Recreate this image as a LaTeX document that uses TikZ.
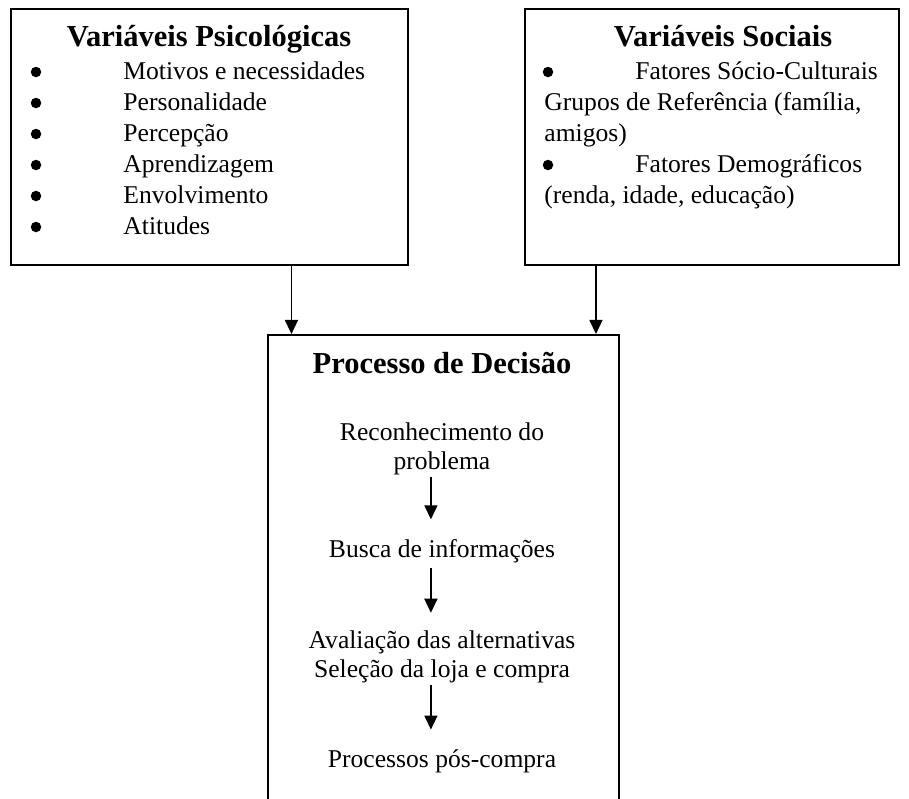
\documentclass[tikz,border=0pt]{standalone}
\usepackage{fontspec}
\setmainfont{Liberation Serif}
\usetikzlibrary{arrows.meta}

\newcommand{\px}{0.46875pt}

\begin{document}
\begin{tikzpicture}[x=\px, y=-\px,
  caixa/.style={draw, line width=0.9pt, anchor=north west, inner sep=0pt},
  titulo/.style={font=\fontsize{14.3}{17}\selectfont\bfseries, anchor=base, inner sep=0pt},
  texto/.style={font=\fontsize{12}{14.5}\selectfont, inner sep=0pt},
  marca/.style={circle, fill, inner sep=0pt, minimum size=10.5*\px},
  seta/.style={-{Triangle[length=6.6pt,width=6.1pt]}, line width=0.8pt}]

  \useasboundingbox (0,0) rectangle (909,798);
  \clip (0,0) rectangle (909,798);

  % Caixas
  \node[caixa, minimum width=397*\px, minimum height=256*\px] (psico) at (10,8) {};
  \node[caixa, minimum width=374*\px, minimum height=256*\px] (social) at (524,8) {};
  \node[caixa, minimum width=351*\px, minimum height=520*\px] (decisao) at (267,334) {};

  % Titulos
  \node[titulo] (tpsico) at (209,46) {Variáveis Psicológicas};
  \node[titulo] (tsocial) at (723,46) {Variáveis Sociais};
  \node[titulo] (tdecisao) at (442,373) {Processo de Decisão};

  % Variaveis psicologicas
  \foreach \txt [count=\i] in {Motivos e necessidades, Personalidade, Percepção,
      Aprendizagem, Envolvimento, Atitudes} {
    \node[marca] (b\i) at (36,41+31*\i) {};
    \node[texto, anchor=base west] (p\i) at (123,48+31*\i) {\txt};
  }

  % Variaveis sociais
  \node[marca] (sb1) at (548,72) {};
  \node[texto, anchor=base west] (s1) at (635,79) {Fatores Sócio-Culturais};
  \node[texto, anchor=base west] (s2) at (544,110) {Grupos de Referência (família,};
  \node[texto, anchor=base west] (s3) at (544,141) {amigos)};
  \node[marca] (sb2) at (548,165) {};
  \node[texto, anchor=base west] (s4) at (635,172) {Fatores Demográficos};
  \node[texto, anchor=base west] (s5) at (544,203) {(renda, idade, educação)};

  % Etapas da decisao
  \node[texto, anchor=base] (rec) at (442,440) {Reconhecimento do};
  \node[texto, anchor=base] (prob) at (442,469) {problema};
  \node[texto, anchor=base] (busca) at (442,557) {Busca de informações};
  \node[texto, anchor=base] (aval) at (442,648) {Avaliação das alternativas};
  \node[texto, anchor=base] (sel) at (442,677) {Seleção da loja e compra};
  \node[texto, anchor=base] (pos) at (442,767) {Processos pós-compra};

  % Setas
  \coordinate (sp) at ([shift={(82,0)}]psico.south);
  \coordinate (ss) at ([shift={(-116,0)}]social.south);
  \draw[seta] (sp) -- (sp |- decisao.north);
  \draw[seta] (ss) -- (ss |- decisao.north);

  \draw[seta, shorten <=1pt, shorten >=9pt] ([xshift=-5.2pt]prob.south) -- ([xshift=-5.2pt]busca.north);
  \draw[seta, shorten <=2.5pt, shorten >=8pt] ([xshift=-5.2pt]busca.south) -- ([xshift=-5.2pt]aval.north);
  \draw[seta, shorten <=1pt, shorten >=9pt] ([xshift=-5.2pt]sel.south) -- ([xshift=-5.2pt]pos.north);

\end{tikzpicture}
\end{document}
